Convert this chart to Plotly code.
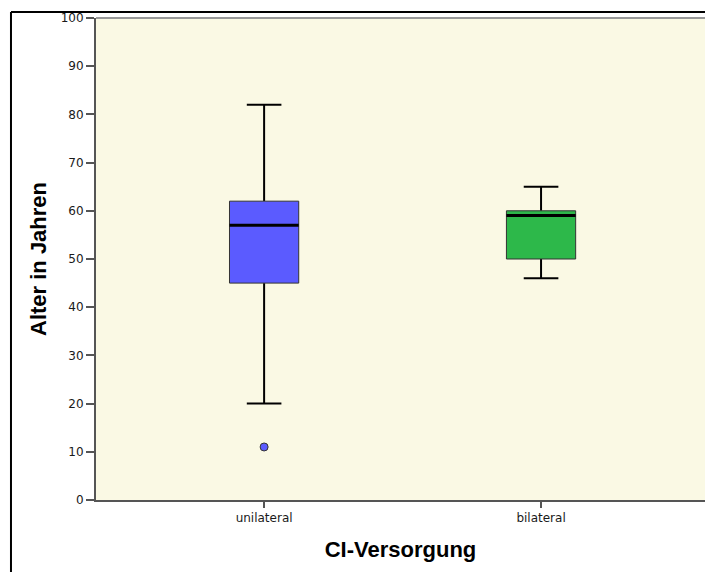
import plotly.graph_objects as go

categories = ["unilateral", "bilateral"]
positions = [0, 1]
lower_whisker = [20, 46]
q1 = [45, 50]
median = [57, 59]
q3 = [62, 60]
upper_whisker = [82, 65]
outlier_cat = [0]
outlier_val = [11]
fill_colors = ["#5B5BFF", "#2DB84A"]

box_w = 0.25
cap_half = box_w / 4

fig = go.Figure()

for i, cat in enumerate(categories):
    p = positions[i]
    # whiskers (vertical)
    fig.add_trace(go.Scatter(
        x=[p, p, None, p, p], y=[lower_whisker[i], q1[i], None, q3[i], upper_whisker[i]],
        mode="lines", line=dict(color="black", width=2), showlegend=False, hoverinfo="skip"))
    # caps
    fig.add_trace(go.Scatter(
        x=[p - cap_half, p + cap_half, None, p - cap_half, p + cap_half],
        y=[lower_whisker[i], lower_whisker[i], None, upper_whisker[i], upper_whisker[i]],
        mode="lines", line=dict(color="black", width=2), showlegend=False, hoverinfo="skip"))
    # box
    fig.add_trace(go.Scatter(
        x=[p - box_w / 2, p + box_w / 2, p + box_w / 2, p - box_w / 2, p - box_w / 2],
        y=[q1[i], q1[i], q3[i], q3[i], q1[i]],
        mode="lines", fill="toself", fillcolor=fill_colors[i],
        line=dict(color="#333333", width=1), showlegend=False, hoverinfo="skip"))
    # median
    fig.add_trace(go.Scatter(
        x=[p - box_w / 2, p + box_w / 2], y=[median[i], median[i]],
        mode="lines", line=dict(color="black", width=3), showlegend=False, hoverinfo="skip"))

fig.add_trace(go.Scatter(
    x=[positions[c] for c in outlier_cat], y=outlier_val, mode="markers",
    marker=dict(color=fill_colors[0], size=8, line=dict(color="#333333", width=1)),
    showlegend=False, hoverinfo="skip"))

# outer frame
fig.add_shape(type="line", xref="paper", yref="paper", x0=-0.1396, x1=1.05, y0=1.0124, y1=1.0124,
              line=dict(color="black", width=2))
fig.add_shape(type="line", xref="paper", yref="paper", x0=-0.1396, x1=-0.1396, y0=1.0124, y1=-0.3,
              line=dict(color="black", width=2))

tick_font = dict(family="DejaVu Sans, sans-serif", size=12, color="#1a1a1a")
title_font = dict(family="Arial, Liberation Sans, sans-serif", size=22, color="black")

fig.update_layout(
    width=705, height=572,
    margin=dict(l=96, r=0, t=18, b=72),
    paper_bgcolor="white",
    plot_bgcolor="#FAF9E4",
    font=dict(family="Arial, Liberation Sans, sans-serif", color="#222222", size=12),
    xaxis=dict(
        range=[-0.607, 1.592], tickmode="array", tickvals=positions, ticktext=categories,
        showgrid=False, zeroline=False, showline=True, linecolor="#555555", linewidth=2,
        mirror=False, ticks="outside", ticklen=6, tickcolor="#555555", tickwidth=2,
        tickfont=tick_font,
        title=dict(text="<b>CI-Versorgung</b>", font=title_font, standoff=17),
    ),
    yaxis=dict(
        range=[0, 100], tickmode="linear", tick0=0, dtick=10,
        showgrid=False, zeroline=False, showline=True, linecolor="#555555", linewidth=2,
        ticks="outside", ticklen=8, tickcolor="#555555", tickwidth=2,
        tickfont=tick_font,
        title=dict(text="<b>Alter in Jahren</b>", font=title_font, standoff=8),
    ),
)
# gray top border of plot area
fig.add_shape(type="line", xref="paper", yref="paper", x0=0, x1=1, y0=1, y1=1,
              line=dict(color="#999999", width=2))

fig.write_html("out.html")
